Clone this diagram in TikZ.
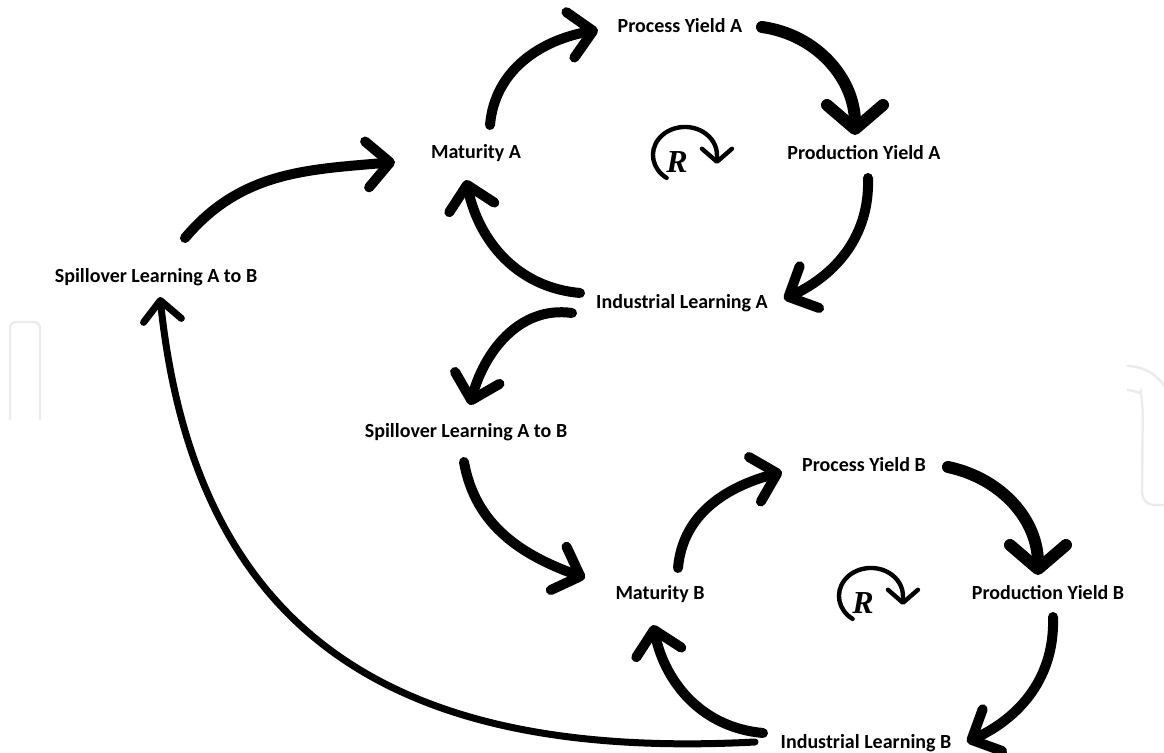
\documentclass[tikz,border=0pt]{standalone}
\usepackage{fontspec}
\setmainfont{Carlito}
\newfontfamily\loopfont{Liberation Serif}
\usetikzlibrary{arrows.meta}

\begin{document}
\begin{tikzpicture}[
  x=0.5pt,y=0.5pt,
  var/.style={font=\fontsize{10}{12}\selectfont\bfseries,inner sep=0pt},
  link/.style={-{Straight Barb[length=11.5pt,width=23pt,round]},line width=5pt,line cap=round},
  heavy link/.style={-{Straight Barb[length=12pt,width=28pt,round]},line width=6pt,line cap=round},
  long link/.style={-{Straight Barb[length=10pt,width=19pt,round]},line width=3.5pt,line cap=round},
  loopsign/.style={font=\fontsize{16}{18}\selectfont\loopfont\bfseries\itshape,inner sep=0pt},
  looparc/.style={-{Straight Barb[length=6.5pt,width=15pt,round]},line width=2.2pt,line cap=round},
  faint/.style={black!8,line width=1.2pt}
]
\useasboundingbox (0,0) rectangle (1164,-753);

% faint background marks
\draw[faint,rounded corners=3pt] (10,-420) |- (40,-322) -- (40,-420);
\draw[faint] (1127,-366) arc[start angle=90,end angle=30,radius=45];
\draw[faint,rounded corners=6pt] (1127,-390) arc[start angle=90,end angle=10,radius=16] -- (1142,-505) -- (1164,-505);

% variables
\node[var] (pya) at (680,-26)  {Process Yield A};
\node[var] (ma)  at (476,-153) {Maturity A};
\node[var] (pda) at (864,-153) {Production Yield A};
\node[var] (ila) at (682,-303) {Industrial Learning A};
\node[var] (sll) at (156,-277) {Spillover Learning A to B};
\node[var] (slm) at (466,-432) {Spillover Learning A to B};
\node[var] (pyb) at (864,-465) {Process Yield B};
\node[var] (mb)  at (660,-594) {Maturity B};
\node[var] (pdb) at (1048,-593) {Production Yield B};
\node[var] (ilb) at (866,-743) {Industrial Learning B};

% loop signs
\node[loopsign] (ra) at (677,-162) {R};
\node[loopsign] (rb) at (863,-603) {R};
\draw[looparc] ([shift={(-10.4,-15.9)}]ra.center) arc[start angle=235,end angle=0,x radius=32,y radius=28] -- ++(0,-9);
\draw[looparc] ([shift={(-10.4,-15.9)}]rb.center) arc[start angle=235,end angle=0,x radius=32,y radius=28] -- ++(0,-9);

% loop A
\draw[link] ([shift={(14,28)}]ma.center) to[out=85,in=190] ([shift={(-82,-4)}]pya.center);
\draw[heavy link] ([shift={(82,-1)}]pya.center) to[out=-8,in=90] ([shift={(-9,18)}]pda.center);
\draw[link] ([shift={(4,-25)}]pda.center) to[out=-88,in=25] ([shift={(102,4)}]ila.center);
\draw[link] ([shift={(-102,10)}]ila.center) to[out=175,in=-78] ([shift={(-10,-27)}]ma.center);

% spillover
\draw[link] ([shift={(29,39)}]sll.center) to[out=50,in=185] ([shift={(-81,-9)}]ma.center);
\draw[link] ([shift={(-110,-10)}]ila.center) to[out=172,in=75] ([shift={(4,27)}]slm.center);
\draw[link] ([shift={(-2,-30)}]slm.center) to[out=-80,in=160] ([shift={(-75,16)}]mb.center);

% loop B
\draw[link] ([shift={(18,26)}]mb.center) to[out=85,in=195] ([shift={(-82,-7)}]pyb.center);
\draw[heavy link] ([shift={(84,-2)}]pyb.center) to[out=-12,in=90] ([shift={(-10,18)}]pdb.center);
\draw[link] ([shift={(5,-24)}]pdb.center) to[out=-88,in=25] ([shift={(101,1)}]ilb.center);
\draw[link] ([shift={(-103,10)}]ilb.center) to[out=175,in=-78] ([shift={(-7,-31)}]mb.center);

% feedback to spillover
\draw[long link] ([shift={(-111,1)}]ilb.center) to[out=183,in=-84,looseness=1.2] ([shift={(4,-20)}]sll.center);
\end{tikzpicture}
\end{document}
